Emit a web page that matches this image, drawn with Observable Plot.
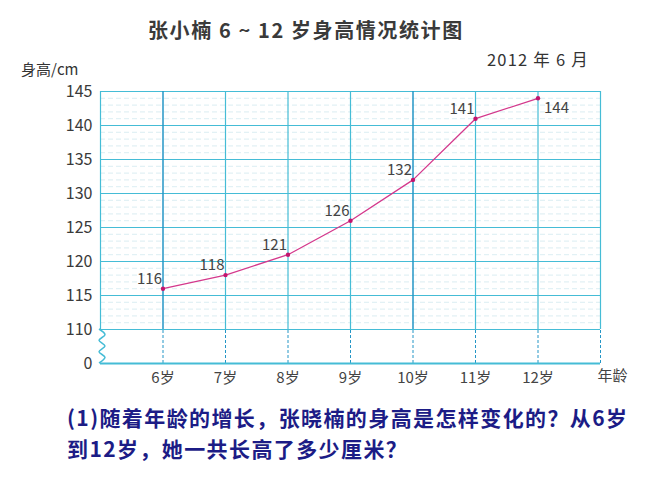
<!DOCTYPE html>
<html>
<head>
<meta charset="utf-8">
<script src="https://cdn.jsdelivr.net/npm/d3@7"></script>
<script src="https://cdn.jsdelivr.net/npm/@observablehq/plot@0.6"></script>
<style>
  body { margin: 0; background: #fff; font-family: "Noto Sans CJK SC", "Noto Sans", sans-serif; }
  #wrap { position: relative; width: 667px; height: 500px; overflow: hidden; }
  .abs { position: absolute; white-space: nowrap; }
  #title { left: 148px; top: 15px; font-size: 20px; font-weight: 600; color: #3a3a3a; letter-spacing: 1.6px; }
  #date { left: 487px; top: 47px; font-size: 16.5px; color: #333; letter-spacing: 1.2px; }
  #ylab { left: 21px; top: 58px; font-size: 15px; color: #333; }
  #chart { position: absolute; left: 0; top: 0; }
  .q { left: 67px; font-size: 21px; font-weight: bold; color: #1c1c86; line-height: 21px; letter-spacing: 1.4px; }
  #q1 { top: 407px; }
  #q2 { top: 438px; }
</style>
</head>
<body>
<div id="wrap">
  <div id="chart"></div>
  <div id="title" class="abs">张小楠 6 ~ 12 岁身高情况统计图</div>
  <div id="date" class="abs">2012 年 6 月</div>
  <div id="ylab" class="abs">身高/cm</div>
  <div id="q1" class="abs q">(1)随着年龄的增长，张晓楠的身高是怎样变化的？从6岁</div>
  <div id="q2" class="abs q">到12岁，她一共长高了多少厘米？</div>
</div>
<script>
// ---- data ----
const ages = [6, 7, 8, 9, 10, 11, 12];
const heights = [116, 118, 121, 126, 132, 141, 144];
const ageLabels = ["6岁", "7岁", "8岁", "9岁", "10岁", "11岁", "12岁"];
const yTicks = [105, 110, 115, 120, 125, 130, 135, 140, 145];
const yTickLabels = ["0", "110", "115", "120", "125", "130", "135", "140", "145"];
const xGrid = [5, 6, 7, 8, 9, 10, 11, 12, 13];
const darkX = [6, 10];
const majorY = [110, 115, 120, 125, 130, 135, 140, 145];
const minorY = d3.range(111, 145).filter(v => v % 5 !== 0);

const data = ages.map((a, i) => ({age: a, h: heights[i]}));
const labelMap = new Map(yTicks.map((t, i) => [t, yTickLabels[i]]));
const xLabelMap = new Map(ages.map((a, i) => [a, ageLabels[i]]));

const cyan = "#45bcd6";
const dark = "#2496c6";
const font = "'Noto Sans CJK SC', 'Noto Sans', sans-serif";

// zigzag axis break on left edge (decoration)
function zigzag(index, scales, values, dimensions) {
  const x0 = scales.x(5), yTop = scales.y(110), yBot = scales.y(105);
  const n = 6, step = (yBot - yTop) / n;
  const pts = [];
  for (let i = 0; i <= n; i++) pts.push([x0 + (i % 2 ? 5 : -1), yTop + i * step]);
  const path = document.createElementNS("http://www.w3.org/2000/svg", "path");
  path.setAttribute("d", d3.line().curve(d3.curveCardinal)(pts));
  path.setAttribute("fill", "none");
  path.setAttribute("stroke", cyan);
  path.setAttribute("stroke-width", 1.5);
  return path;
}

const chart = Plot.plot({
  width: 667,
  height: 395,
  marginTop: 91,
  marginLeft: 100,
  marginRight: 67,
  marginBottom: 32,
  style: {fontFamily: font, background: "transparent"},
  x: {domain: [5, 13]},
  y: {domain: [105, 145]},
  marks: [
    // minor dashed horizontal lines
    Plot.ruleY(minorY, {x1: 5, x2: 13, stroke: "#d2e9ef", strokeWidth: 0.8, strokeDasharray: "5,3"}),
    // major horizontal lines
    Plot.ruleY(majorY, {x1: 5, x2: 13, stroke: cyan, strokeWidth: 1.2}),
    // vertical solid grid (110-145)
    Plot.ruleX(xGrid.filter(v => !darkX.includes(v)), {y1: 110, y2: 145, stroke: cyan, strokeWidth: 1.2}),
    Plot.ruleX(darkX, {y1: 110, y2: 145, stroke: dark, strokeWidth: 1.5}),
    // dashed verticals in the broken region
    Plot.ruleX(xGrid.filter(v => v > 5), {y1: 105, y2: 110, stroke: dark, strokeWidth: 1, strokeDasharray: "3,2"}),
    // baseline
    Plot.ruleY([105], {x1: 5, x2: 13, stroke: cyan, strokeWidth: 2}),
    zigzag,
    // data line
    Plot.line(data, {x: "age", y: "h", stroke: "#d4388c", strokeWidth: 1.3}),
    Plot.dot(data, {x: "age", y: "h", r: 2.2, fill: "#c2156e"}),
    // value labels
    Plot.text(data.filter(d => d.age !== 12), {x: "age", y: "h", text: d => String(d.h), textAnchor: "end", dx: -1, dy: -10, fontSize: 15, fill: "#444"}),
    Plot.text(data.filter(d => d.age === 12), {x: "age", y: "h", text: d => String(d.h), textAnchor: "start", dx: 6, dy: 10, fontSize: 15, fill: "#444"}),
    // axes
    Plot.axisY({ticks: yTicks, tickFormat: t => labelMap.get(t), tickSize: 0, tickPadding: 8, fontSize: 16, color: "#3a3a3a", label: null}),
    Plot.axisX({ticks: ages, tickFormat: a => xLabelMap.get(a), tickSize: 0, tickPadding: 9, fontSize: 15, color: "#444", label: null}),
    Plot.text(["年龄"], {frameAnchor: "bottom-right", dx: 27, dy: 17, fontSize: 15, fill: "#444"})
  ]
});
document.getElementById("chart").appendChild(chart);
</script>
</body>
</html>
